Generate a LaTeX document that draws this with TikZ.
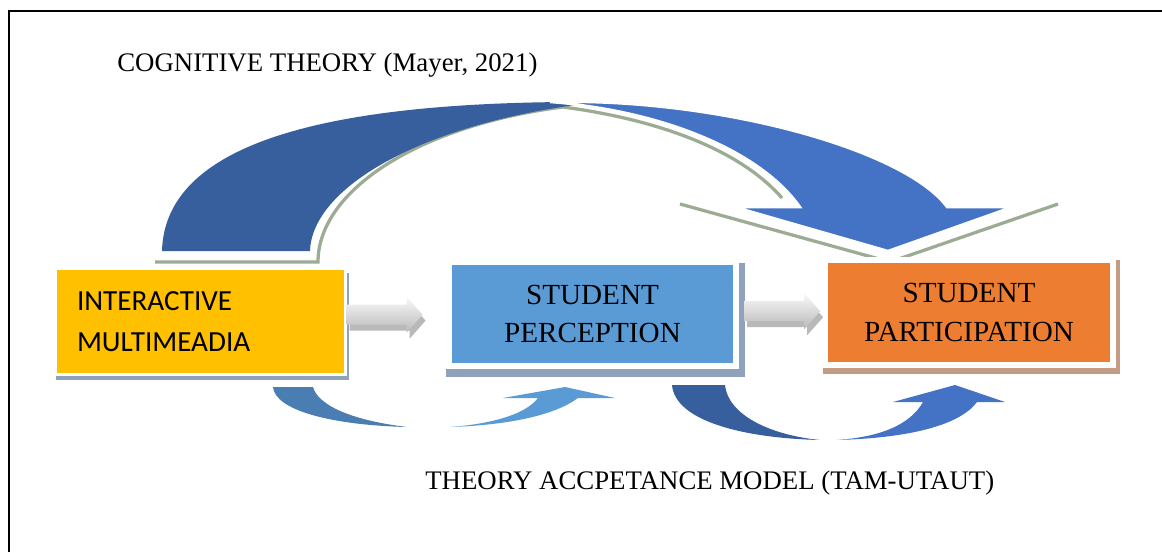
\documentclass[tikz,border=0pt]{standalone}
\usepackage{fontspec}
\setmainfont{Liberation Serif}
\newfontfamily\calibri{Carlito}
\usetikzlibrary{calc,backgrounds}

\definecolor{imyellow}{HTML}{FFC000}
\definecolor{spblue}{HTML}{5B9BD5}
\definecolor{spaorange}{HTML}{ED7D31}
\definecolor{arcdark}{HTML}{375E9D}
\definecolor{arclight}{HTML}{4472C4}
\definecolor{tamdark}{HTML}{4A7DB2}
\definecolor{shadowblue}{HTML}{8EA2BC}
\definecolor{shadowbrown}{HTML}{C49C83}
\definecolor{shadowgreen}{HTML}{9CAB93}

\tikzset{
  box/.style={draw=white, inner sep=0pt},
  label/.style={font=\fontsize{15.25}{18}\selectfont, inner sep=0pt},
  arcline/.style={draw=shadowgreen, line width=0.065cm},
  pics/pipe/.style={code={
    % grey block arrow with its shadow
    \fill[gray!55] (-35,-4) -- (25,-4) -- (25,-12) -- (41,6) -- (25,24) -- (25,16) -- (-35,16) -- cycle;
    \shade[top color=gray!4, bottom color=gray!55] (-38,-10) -- (22,-10) -- (22,-18) -- (38,0) -- (22,18) -- (22,10) -- (-38,10) -- cycle;
  }}
}

\begin{document}
\begin{tikzpicture}[x=0.02cm, y=-0.02cm]
  \useasboundingbox (0,0) rectangle (1162,552);
  \draw[line width=1.1pt] (9,552) -- (9,11) -- (1162,11); % cornice

  % arco superiore
  \draw[arcline] (155,262) -- (318,262) .. controls (318,190) and (420,125) .. (563,107)
                 .. controls (660,120) and (740,150) .. (782,198);
  \draw[arcline] (680,204) -- (890,262) -- (1058,204);
  \fill[arcdark] (162,251) .. controls (165,145) and (320,100) .. (600,102)
                 .. controls (430,120) and (312,185) .. (310,251) -- cycle;
  \filldraw[fill=arclight, draw=white, line width=0.05cm] (550,102) .. controls (720,98) and (905,150) .. (947,207)
                 -- (1012,207) -- (888,251) -- (735,207) -- (800,207)
                 .. controls (760,150) and (660,110) .. (550,102) -- cycle;

  % archi inferiori
  \fill[tamdark] (273,387) -- (313,387) .. controls (318,405) and (350,420) .. (407,427)
                 .. controls (330,425) and (275,410) .. (273,387) -- cycle;
  \fill[spblue] (450,427) .. controls (510,425) and (555,415) .. (578,398) -- (615,398) -- (565,387)
                 -- (503,398) -- (538,398) .. controls (525,415) and (490,424) .. (450,427) -- cycle;
  \fill[arcdark] (672,385) -- (725,385) .. controls (728,415) and (770,435) .. (820,440)
                 .. controls (740,438) and (675,420) .. (672,385) -- cycle;
  \fill[arclight] (837,440) .. controls (910,438) and (960,425) .. (977,402) -- (1005,402) -- (955,385)
                 -- (893,402) -- (923,402) .. controls (910,425) and (880,437) .. (837,440) -- cycle;

  % blocchi
  \node[box, fill=imyellow, line width=0.06cm, minimum height=2.12cm, text width=4.94cm, inner xsep=0.43cm,
        align=left, font=\calibri\fontsize{16.6}{23.2}\selectfont] (im) at (200.5,321.5) {INTERACTIVE\\MULTIMEADIA};
  \node[box, fill=spblue, line width=0.12cm, minimum width=5.74cm, minimum height=2.08cm,
        align=center, font=\fontsize{16.6}{22.1}\selectfont] (sp) at (592.5,314) {STUDENT\\PERCEPTION};
  \node[box, fill=spaorange, line width=0.12cm, minimum width=5.76cm, minimum height=2.10cm,
        align=center, font=\fontsize{16.6}{22.1}\selectfont] (spa) at (969,312.5) {STUDENT\\PARTICIPATION};

  \coordinate (g1) at ($(im.east)!0.38!(sp.west)+(0,-4)$);
  \coordinate (g2) at ($(sp.east)!0.52!(spa.west)+(0,-2)$);
  \pic (p1) at (g1) {pipe};
  \pic (p2) at (g2) {pipe};

  \node[label, anchor=base west] (cog) at (117,71) {COGNITIVE THEORY (Mayer, 2021)};
  \node[label, anchor=base west] (tam) at (425,489) {THEORY ACCPETANCE MODEL (TAM-UTAUT)};

  % ombre dei blocchi
  \begin{scope}[on background layer]
    \fill[white] (0,0) rectangle (1162,552);
    \fill[shadowblue] ($(im.north west)+(2,6)$) rectangle ($(im.south east)+(2,4)$);
    \fill[shadowblue] ($(sp.north west)+(0,4)$) rectangle ($(sp.south east)+(6,8)$);
    \fill[shadowbrown] ($(spa.north west)+(1,3)$) rectangle ($(spa.south east)+(4,6)$);
  \end{scope}
\end{tikzpicture}
\end{document}
